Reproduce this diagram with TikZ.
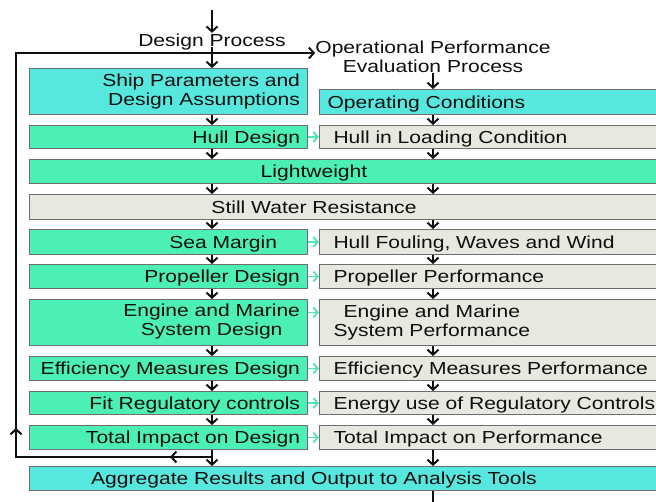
\documentclass[tikz,border=0pt]{standalone}
\usepackage{fontspec}
\setmainfont{Liberation Sans}[FakeStretch=1.21]
\usetikzlibrary{arrows.meta,decorations.markings}
\hyphenpenalty=10000
\exhyphenpenalty=10000

\definecolor{boxcyan}{RGB}{86,232,222}
\definecolor{boxgreen}{RGB}{76,240,180}
\definecolor{boxgray}{RGB}{232,232,224}
\definecolor{edgegray}{RGB}{110,110,110}
\definecolor{linkgreen}{RGB}{80,228,176}
\definecolor{ink}{RGB}{15,15,15}

\begin{document}
\begin{tikzpicture}[x=1pt,y=-1pt,
  font=\fontsize{17.4}{19}\selectfont,
  box/.style={draw=edgegray, line width=1pt, anchor=north west, inner ysep=0pt, text=ink},
  lbox/.style={box, inner xsep=7.5pt, text width=263pt, align=right},
  rbox/.style={box, fill=boxgray, inner xsep=14pt, text width=340pt, align=left},
  wbox/.style={box, inner xsep=8pt, text width=625pt, align=center},
  one/.style={text height=13pt, text depth=1pt},
  title/.style={inner sep=0pt, text=ink},
  barb/.tip={Straight Barb[length=5pt,width=11pt]},
  flow/.style={line width=2pt, draw=ink, -barb},
  link/.style={line width=1.8pt, draw=linkgreen, -{Straight Barb[length=4.5pt,width=10pt]}},
  loop/.style={line width=2pt, draw=ink, -barb, postaction={decorate},
    decoration={markings,
      mark=at position 42pt with {\arrow{barb}},
      mark=at position 225pt with {\arrow{barb}}}}
]
\useasboundingbox (0,0) rectangle (656,501);
\clip (0,0) rectangle (656,501);

% column axes for the vertical flow
\coordinate (L) at (212,0);
\coordinate (R) at (433,0);

% headings
\coordinate (start) at (212,10);
\node[title, one] (dp) at (212,40) {Design Process};
\node[title, align=center] (opl) at (433,57) {Operational Performance\\Evaluation Process};

% design column
\node[lbox, fill=boxcyan, minimum height=46pt] (ship) at (29,68) {Ship Parameters and\\Design Assumptions};
\node[lbox, one, fill=boxgreen, minimum height=23pt] (hull) at (29,125) {Hull Design};
\node[lbox, one, fill=boxgreen, minimum height=25pt] (sea) at (29,229) {Sea Margin\hspace*{23pt}};
\node[lbox, one, fill=boxgreen, minimum height=24pt] (prop) at (29,264) {Propeller Design};
\node[lbox, fill=boxgreen, minimum height=46pt] (engine) at (29,299) {\begin{tabular}{@{}c@{}}Engine and Marine\\System Design\end{tabular}};
\node[lbox, one, fill=boxgreen, minimum height=24pt] (eff) at (29,356) {Efficiency Measures Design};
\node[lbox, one, fill=boxgreen, minimum height=23pt] (fit) at (29,391) {Fit Regulatory controls};
\node[lbox, one, fill=boxgreen, minimum height=24pt] (total) at (29,425) {Total Impact on Design};

% performance column
\node[rbox, one, fill=boxcyan, minimum height=25pt] (opcond) at (319,89) {\hspace*{-6pt}Operating Conditions};
\node[rbox, one, minimum height=23pt] (hullload) at (319,125) {Hull in Loading Condition};
\node[rbox, one, minimum height=25pt] (hfw) at (319,229) {Hull Fouling, Waves and Wind};
\node[rbox, one, minimum height=24pt] (propperf) at (319,264) {Propeller Performance};
\node[rbox, minimum height=46pt] (engperf) at (319,299) {\hspace*{10pt}Engine and Marine\\System Performance};
\node[rbox, one, minimum height=24pt] (effperf) at (319,356) {Efficiency Measures Performance};
\node[rbox, one, minimum height=23pt] (energy) at (319,391) {Energy use of Regulatory Controls};
\node[rbox, one, minimum height=24pt] (totperf) at (319,425) {Total Impact on Performance};

% shared rows
\node[wbox, one, fill=boxgreen, minimum height=24pt] (light) at (29,159) {Lightweight\hspace*{72pt}};
\node[wbox, one, fill=boxgray, minimum height=25pt] (still) at (29,194) {Still Water Resistance\hspace*{72pt}};
\node[wbox, one, fill=boxcyan, minimum height=24pt] (agg) at (29,466) {Aggregate Results and Output to Analysis Tools\hspace*{72pt}};

% entry arrows
\draw[flow] (start) -- (dp.north);
\draw[flow] (dp.south) -- (dp.south |- ship.north);
\draw[flow] (opl.south) -- (opl.south |- opcond.north);

% vertical flow, design column
\foreach \a/\b in {ship/hull, hull/light, light/still, still/sea, sea/prop,
                   prop/engine, engine/eff, eff/fit, fit/total, total/agg}
  \draw[flow] (\a.south -| L) -- (\b.north -| L);

% vertical flow, performance column
\foreach \a/\b in {opcond/hullload, hullload/light, light/still, still/hfw, hfw/propperf,
                   propperf/engperf, engperf/effperf, effperf/energy, energy/totperf, totperf/agg}
  \draw[flow] (\a.south -| R) -- (\b.north -| R);

\coordinate (out) at (433,515);
\draw[flow] (agg.south -| R) -- (out);

% design to performance links
\foreach \a/\b in {hull/hullload, sea/hfw, prop/propperf, eff/effperf, fit/energy, total/totperf}
  \draw[link] (\a.east) -- (\b.west);
\draw[link] ([yshift=10pt]engine.east) -- ([yshift=10pt]engperf.west);

% feedback loop back to the performance evaluation
\coordinate (fbA) at (212,457);
\coordinate (fbB) at (16,457);
\coordinate (fbC) at (16,53);
\draw[loop] (fbA) -- (fbB) -- (fbC) -- (fbC -| opl.west);
\end{tikzpicture}
\end{document}
